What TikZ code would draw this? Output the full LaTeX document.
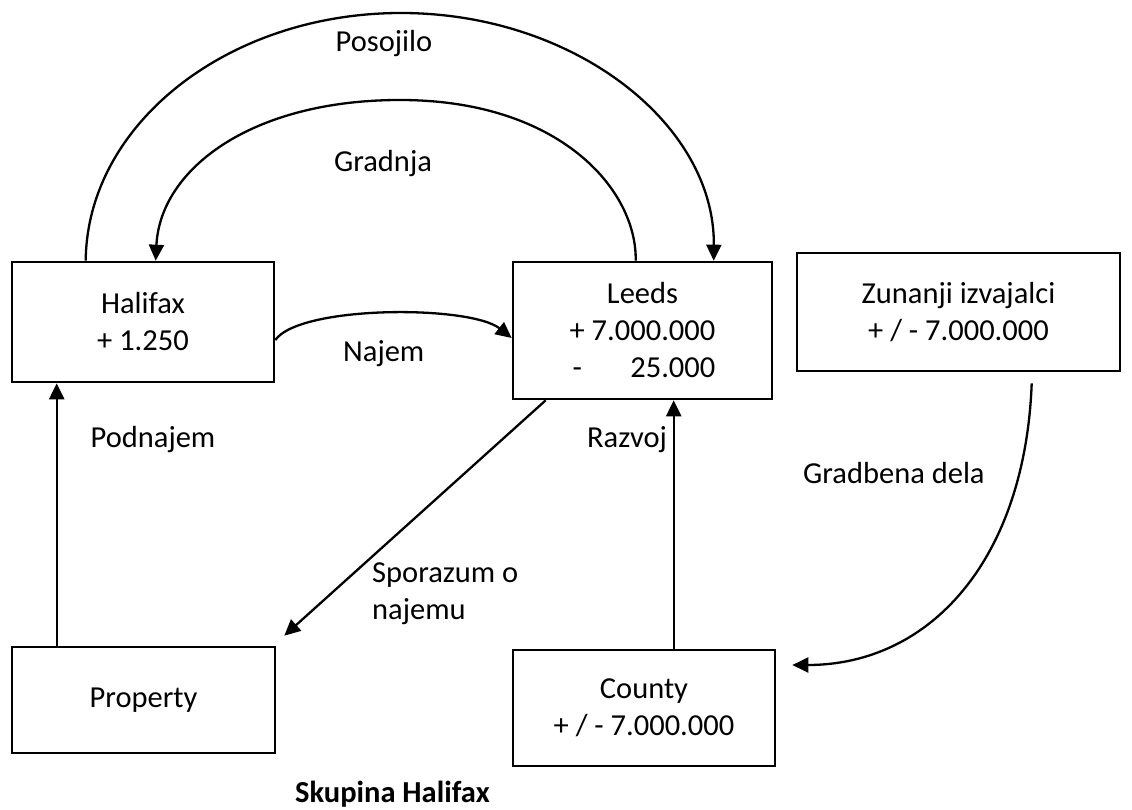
\documentclass[tikz,border=0pt]{standalone}
\usepackage{fontspec}
\usepackage{calc}
\setmainfont{Carlito}
\usetikzlibrary{arrows.meta}
\newcommand\fsz{\fontsize{30.5}{37}\selectfont}
\begin{document}
\begin{tikzpicture}[x=1pt,y=-1pt,
  box/.style={draw,line width=2.6pt,inner sep=0pt,font=\fsz,align=center},
  conn/.style={line width=2.3pt,-{Triangle[length=16pt,width=15pt]}},
  lbl/.style={font=\fsz,inner sep=0pt}]
\useasboundingbox[fill=white] (0,0) rectangle (1132,810);
% boxes
\node[box,minimum width=262pt,minimum height=120pt] (halifax) at (143,322) {Halifax\\+ 1.250};
\node[box,minimum width=259pt,minimum height=137pt] (leeds) at (642.5,330.5)
  {Leeds\\+ 7.000.000\\\makebox[\widthof{+ 7.000.000}]{\makebox[\widthof{+}]{-}\hfill 25.000}};
\node[box,minimum width=323pt,minimum height=118pt] (zunanji) at (958.5,312) {Zunanji izvajalci\\+ / - 7.000.000};
\node[box,minimum width=263pt,minimum height=106pt] (property) at (143.5,700) {Property};
\node[box,minimum width=262pt,minimum height=116pt] (county) at (644,708) {County\\+ / - 7.000.000};
% connectors
\draw[conn] ([xshift=75pt]halifax.north west) .. controls (87,124) and (228,13) .. (401,13)
  .. controls (574,13) and (715,124) .. ([xshift=202pt]leeds.north west);
\draw[conn] ([xshift=124pt]leeds.north west) .. controls (637,190) and (560,100) .. (400,100)
  .. controls (250,100) and (160,170) .. ([xshift=145pt]halifax.north west);
\draw[conn] ([yshift=-18pt]halifax.east) .. controls (300,305) and (470,305) .. ([yshift=-7.5pt]leeds.west);
\draw[conn] ([xshift=34pt]leeds.south west) -- ([shift={(8pt,10pt)}]property.north east);
\draw[conn] ([xshift=46pt]property.north west) -- ([xshift=46pt]halifax.south west);
\draw[conn] ([xshift=162pt]county.north west) -- ([xshift=162pt]leeds.south west);
\draw[conn] ([shift={(236pt,-11pt)}]zunanji.south west) .. controls (1025,560) and (930,665) .. ([shift={(16pt,43pt)}]county.east);
% labels
\node[lbl,anchor=base] (lposojilo) at (384,52) {Posojilo};
\node[lbl,anchor=base] (lgradnja) at (383,172) {Gradnja};
\node[lbl,anchor=base west] (lnajem) at (343,361) {Najem};
\node[lbl,anchor=base] (lpodnajem) at (153,447) {Podnajem};
\node[lbl,anchor=base] (lrazvoj) at (627,447) {Razvoj};
\node[lbl,anchor=base west,align=left] (lsporazum) at (372,619) {Sporazum o\\najemu};
\node[lbl,anchor=base west] (lgradbena) at (803,483) {Gradbena dela};
\node[lbl,anchor=base west,font=\fsz\bfseries] (title) at (295,802) {Skupina Halifax};
\end{tikzpicture}
\end{document}
